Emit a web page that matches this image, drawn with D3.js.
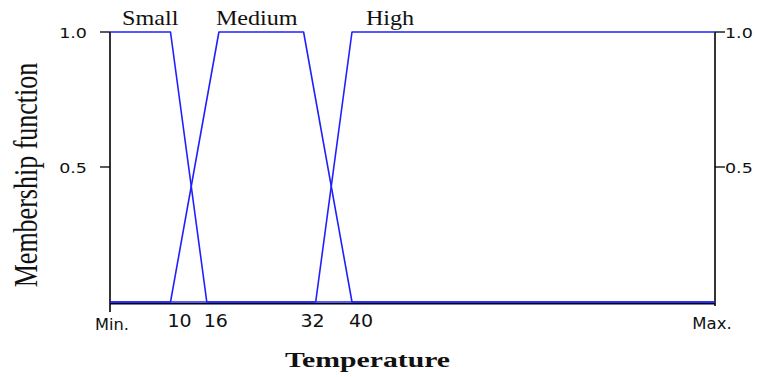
<!DOCTYPE html>
<html>
<head>
<meta charset="utf-8">
<script src="https://cdn.jsdelivr.net/npm/d3@7"></script>
<style>
  html, body { margin: 0; padding: 0; background: #fff; }
  svg { display: block; }
</style>
</head>
<body>
<svg id="chart" width="757" height="377"></svg>
<script>
// ---- data ----
const xDomain = [0, 100];                 // Min. .. Max.
const xEndLabels = ["Min.", "Max."];
const xTickValues = [10, 16, 32, 40];
const xTickLabels = ["10", "16", "32", "40"];
const yTickValues = [0.5, 1.0];
const yTickLabels = ["0.5", "1.0"];
const seriesNames = ["Small", "Medium", "High"];
const smallX = [0, 10, 16, 100];
const smallY = [1, 1, 0, 0];
const mediumX = [0, 10, 18, 32, 40, 100];
const mediumY = [0, 0, 1, 1, 0, 0];
const highX = [0, 34, 40, 100];
const highY = [0, 0, 1, 1];
const seriesLabelAt = [2, 17.5, 42.3];    // x value where each name starts
const xTitle = "Temperature";
const yTitle = "Membership function";

// ---- drawing ----
const svg = d3.select("#chart");
const x = d3.scaleLinear().domain(xDomain).range([110, 715]);
const y = d3.scaleLinear().domain([0, 1]).range([302, 32]);

const BLUE = "#2020ff";
const sans = "'DejaVu Sans', Verdana, sans-serif";
const serif = "'Liberation Serif', 'Times New Roman', serif";

function stext(g, tx, ty, sx, txt) {
  return g.append("text")
    .attr("transform", `translate(${tx},${ty}) scale(${sx},1)`)
    .text(txt);
}

// axes
const ax = svg.append("g").attr("stroke", "#000").attr("stroke-width", 1.6);
ax.append("line").attr("x1", x(xDomain[0])).attr("x2", x(xDomain[0]))
  .attr("y1", y(1)).attr("y2", y(0) + 10);
ax.append("line").attr("x1", x(xDomain[1])).attr("x2", x(xDomain[1]))
  .attr("y1", y(1)).attr("y2", y(0) + 4);
ax.append("line").attr("x1", x(xDomain[0])).attr("x2", x(xDomain[1]))
  .attr("y1", y(0) + 1.8).attr("y2", y(0) + 1.8);
yTickValues.forEach(v => {
  ax.append("line").attr("x1", x(xDomain[0]) - 10).attr("x2", x(xDomain[0]))
    .attr("y1", y(v)).attr("y2", y(v)).attr("stroke-width", 1.3);
  ax.append("line").attr("x1", x(xDomain[1])).attr("x2", x(xDomain[1]) + 10)
    .attr("y1", y(v)).attr("y2", y(v)).attr("stroke-width", 1.3);
});

// y tick labels (both sides)
const yl = svg.append("g").attr("font-family", sans).attr("font-size", 14).attr("fill", "#111");
yTickValues.forEach((v, i) => {
  stext(yl, x(xDomain[0]) - 23, y(v) + 5.5, 1.25, yTickLabels[i]).attr("text-anchor", "end");
  stext(yl, x(xDomain[1]) + 10, y(v) + 5.5, 1.25, yTickLabels[i]).attr("text-anchor", "start");
});

// x tick labels
const xl = svg.append("g").attr("font-family", sans).attr("fill", "#111");
xTickValues.forEach((v, i) => {
  stext(xl, x(v) + 9, 327, 1.12, xTickLabels[i])
    .attr("text-anchor", "middle").attr("font-size", 17);
});
stext(xl, x(xDomain[0]) + 2, 330, 1.08, xEndLabels[0]).attr("text-anchor", "middle").attr("font-size", 15);
stext(xl, x(xDomain[1]) - 3, 329, 1.1, xEndLabels[1]).attr("text-anchor", "middle").attr("font-size", 15);

// membership functions
const line = d3.line().x(d => x(d[0])).y(d => y(d[1]));
const series = [
  d3.zip(smallX, smallY),
  d3.zip(mediumX, mediumY),
  d3.zip(highX, highY)
];
svg.append("g").selectAll("path").data(series).join("path")
  .attr("d", line)
  .attr("fill", "none")
  .attr("stroke", BLUE)
  .attr("stroke-width", 1.6)
  .attr("stroke-linejoin", "round");

// series names
const sl = svg.append("g").attr("font-family", serif).attr("font-size", 21).attr("fill", "#111");
seriesNames.forEach((n, i) => {
  stext(sl, x(seriesLabelAt[i]), 25, 1.15, n).attr("text-anchor", "start");
});

// axis titles
svg.append("text")
  .attr("x", 367.5).attr("y", 366.5)
  .attr("text-anchor", "middle")
  .attr("font-family", serif).attr("font-weight", "bold").attr("font-size", 22)
  .attr("textLength", 165).attr("lengthAdjust", "spacingAndGlyphs")
  .attr("fill", "#111")
  .text(xTitle);

svg.append("text")
  .attr("transform", "translate(37,175) scale(1.28,1) rotate(-90)")
  .attr("text-anchor", "middle")
  .attr("font-family", serif).attr("font-size", 26)
  .attr("fill", "#111")
  .text(yTitle);
</script>
</body>
</html>
